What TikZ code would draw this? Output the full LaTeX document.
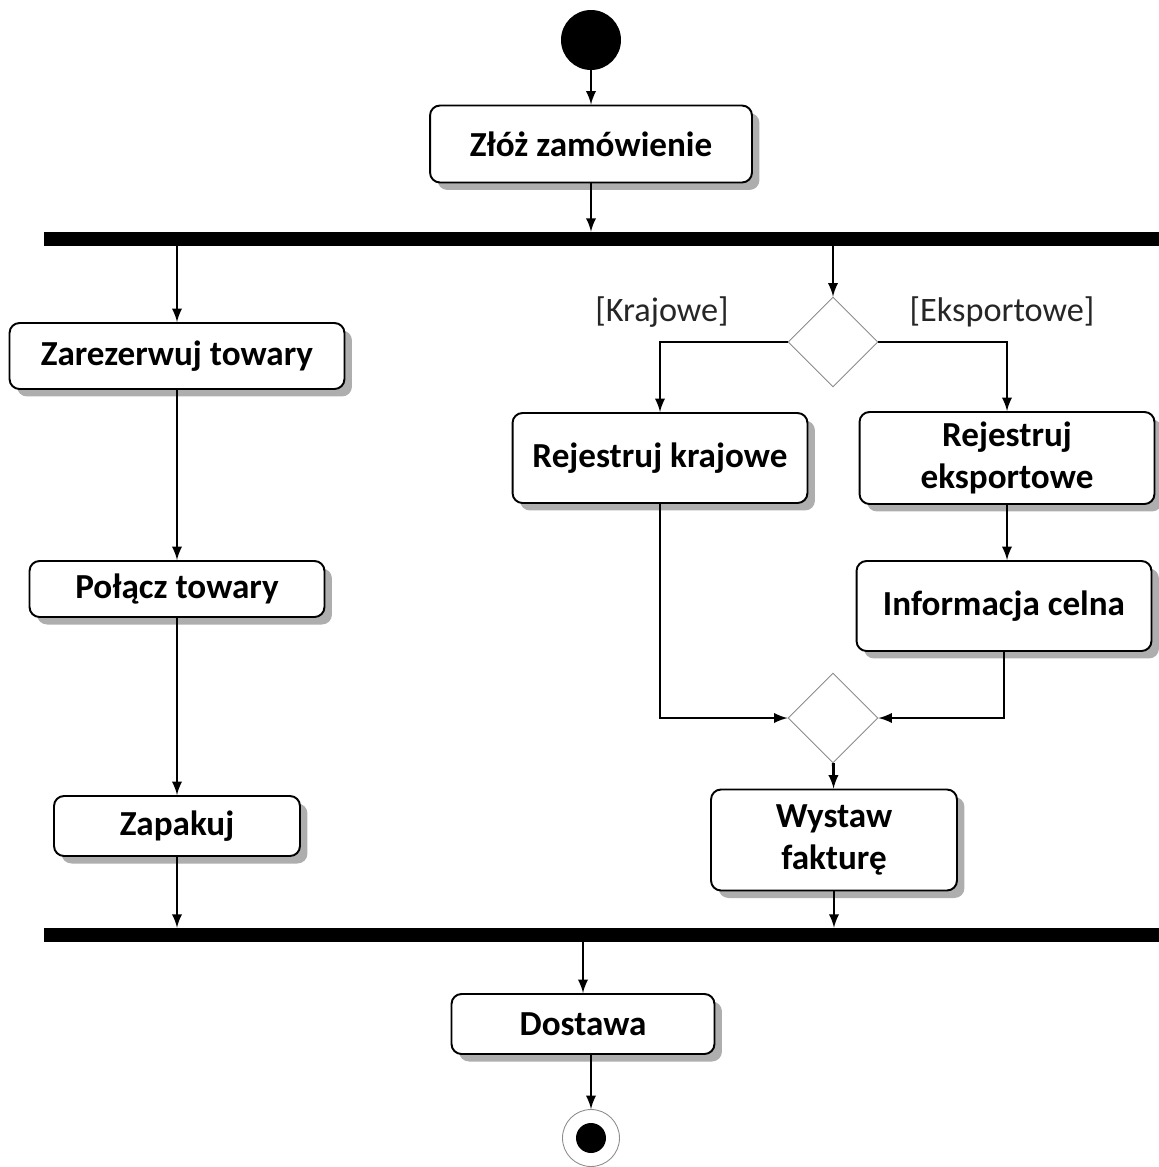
\documentclass[tikz,border=0pt]{standalone}
\usepackage{fontspec}
\setmainfont{Carlito}
\usetikzlibrary{shapes.geometric,shadows}
\tikzset{
  >=latex,
}
\tikzstyle{flow}=[line width=1.6pt,->]
\tikzstyle{action}=[draw,line width=1.1pt,rounded corners=0.2cm,fill=white,
  font=\fontsize{20}{24}\selectfont\bfseries,align=center,
  drop shadow={shadow xshift=0.15cm,shadow yshift=-0.15cm,fill=black!45,opacity=.7}]
\tikzstyle{bar}=[fill=black,minimum width=22.3cm,minimum height=0.28cm,inner sep=0]
\tikzstyle{choice}=[diamond,draw=black!45,line width=.5pt,fill=white,
  minimum width=1.8cm,minimum height=1.8cm,inner sep=0]
\tikzstyle{guard}=[text=black!85]
\tikzstyle{every node}=[font=\fontsize{19.5}{24}\selectfont]

\begin{document}
\begin{tikzpicture}[x=0.02cm,y=-0.02cm]
    \useasboundingbox (0,0) rectangle (1159,1167);
    % start
    \node[circle,fill=black,minimum size=1.2cm,inner sep=0] (start) at (591,40) {};
    \node[action,minimum width=6.44cm,minimum height=1.54cm] (zloz) at (591,144) {Złóż zamówienie};
    \node[bar] (fork) at (601.5,239) {};
    \draw[flow] (start) -- (zloz);
    \draw[flow] (zloz) -- (zloz |- fork.north);
    % left branch
    \node[action,minimum width=6.7cm,minimum height=1.32cm] (rezerwuj) at (177,356) {Zarezerwuj towary};
    \node[action,minimum width=5.9cm,minimum height=1.12cm] (polacz) at (177,589) {Połącz towary};
    \node[action,minimum width=4.92cm,minimum height=1.2cm] (zapakuj) at (177,826) {Zapakuj};
    \draw[flow] (rezerwuj |- fork.south) -- (rezerwuj);
    \draw[flow] (rezerwuj) -- (polacz);
    \draw[flow] (polacz) -- (zapakuj);
    % right branch
    \node[choice] (wybor) at (833,342) {};
    \node[guard] (kraj) at (662,312) {[Krajowe]};
    \node[guard] (eksp) at (1002,312) {[Eksportowe]};
    \node[action,minimum width=5.9cm,minimum height=1.8cm] (krajowe) at (660,458) {Rejestruj krajowe};
    \node[action,minimum width=5.9cm,minimum height=1.84cm] (eksportowe) at (1007,458) {Rejestruj\\eksportowe};
    \node[action,minimum width=5.9cm,minimum height=1.8cm] (celna) at (1004,606) {Informacja celna};
    \node[choice] (scal) at (833,718) {};
    \node[action,minimum width=4.92cm,minimum height=2.02cm] (faktura) at (834,840) {Wystaw\\fakturę};
    \draw[flow] (wybor |- fork.south) -- (wybor);
    \draw[flow] (wybor.west) -| (krajowe);
    \draw[flow] (wybor.east) -| (eksportowe);
    \draw[flow] (eksportowe) -- (eksportowe |- celna.north);
    \draw[flow] (krajowe) |- (scal.west);
    \draw[flow] (celna) |- (scal.east);
    \draw[flow] (scal) -- (faktura);
    % join
    \node[bar] (join) at (601.5,935) {};
    \draw[flow] (zapakuj) -- (zapakuj |- join.north);
    \draw[flow] (faktura) -- (faktura |- join.north);
    \node[action,minimum width=5.26cm,minimum height=1.2cm] (dostawa) at (583,1024) {Dostawa};
    \draw[flow] (dostawa |- join.south) -- (dostawa);
    % end
    \node[circle,draw=black!45,line width=.5pt,minimum size=1.14cm,inner sep=0] (end) at (591,1138) {};
    \fill (end) circle (0.3cm);
    \draw[flow] (dostawa.south -| end) -- (end);
\end{tikzpicture}
\end{document}
